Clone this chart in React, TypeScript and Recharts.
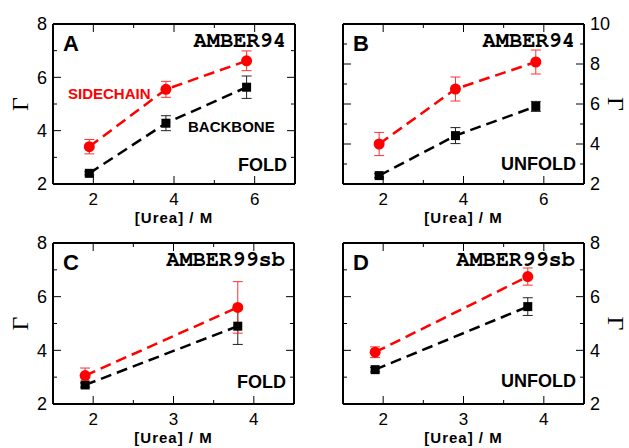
import React from 'react';
import { LineChart, Line, XAxis, YAxis, ErrorBar, Label } from 'recharts';

// urea concentrations (M)
const ureaAB = [1.9, 3.8, 5.8];
const ureaCD = [1.9, 3.8];

// Gamma values, with their error bars
const sideA = [3.4, 5.55, 6.62];
const sideAErr = [0.27, 0.3, 0.37];
const backA = [2.4, 4.28, 5.63];
const backAErr = [0.06, 0.28, 0.42];

const sideB = [4.0, 6.75, 8.1];
const sideBErr = [0.58, 0.6, 0.6];
const backB = [2.42, 4.42, 5.88];
const backBErr = [0.1, 0.4, 0.25];

const sideC = [3.06, 5.6];
const sideCErr = [0.28, 0.96];
const backC = [2.71, 4.9];
const backCErr = [0.08, 0.68];

const sideD = [3.93, 6.75];
const sideDErr = [0.2, 0.32];
const backD = [3.28, 5.63];
const backDErr = [0.08, 0.33];

const xTicksAB = [2, 3, 4, 5, 6];
const xMajorAB = [2, 4, 6];
const xTicksCD = [2, 2.5, 3, 3.5, 4];
const xMajorCD = [2, 3, 4];
const yTicks8 = [2, 3, 4, 5, 6, 7, 8];
const yMajor8 = [2, 4, 6, 8];
const yTicks10 = [2, 3, 4, 5, 6, 7, 8, 9, 10];
const yMajor10 = [2, 4, 6, 8, 10];

const SANS = '"Liberation Sans", Arial, Helvetica, sans-serif';
const MONO = '"Nimbus Mono PS", "Nimbus Mono L", FreeMono, "Courier New", Courier, "Liberation Mono", monospace';
const SERIF = '"Liberation Serif", "Times New Roman", serif';

function rows(x: number[], sc: number[], scErr: number[], bb: number[], bbErr: number[]) {
  return x.map((u, i) => ({ urea: u, side: sc[i], sideErr: scErr[i], back: bb[i], backErr: bbErr[i] }));
}

type Side = 'bottom' | 'top' | 'left' | 'right';

// ticks point into the plot; labels (if any) sit outside
function makeTick(side: Side, majors: number[], labels: boolean) {
  return (props: any) => {
    const { x, y, payload, index } = props;
    const v = payload.value;
    const major = majors.includes(v);
    const len = major ? 8 : 4;
    let x2 = x, y2 = y;
    if (side === 'bottom') y2 = y - len;
    if (side === 'top') y2 = y + len;
    if (side === 'left') x2 = x + len;
    if (side === 'right') x2 = x - len;
    let text = null;
    if (labels && major) {
      const style = { fontFamily: SANS, fontSize: 18, fill: '#000' };
      if (side === 'bottom') text = <text x={x} y={y + 21} textAnchor="middle" style={{ ...style, fontSize: 17 }}>{v}</text>;
      if (side === 'left') text = <text x={x - 6} y={y} dy="0.36em" textAnchor="end" style={style}>{v}</text>;
      if (side === 'right') text = <text x={x + 6} y={y} dy="0.36em" textAnchor="start" style={style}>{v}</text>;
    }
    return (
      <g key={index}>
        <line x1={x} y1={y} x2={x2} y2={y2} stroke="#000" strokeWidth={1} />
        {text}
      </g>
    );
  };
}

interface PanelProps {
  data: any[];
  width: number;
  height: number;
  margin: { top: number; right: number; bottom: number; left: number };
  xDomain: [number, number];
  xTicks: number[];
  xMajor: number[];
  yDomain: [number, number];
  yTicks: number[];
  yMajor: number[];
  ySide: 'left' | 'right';
  tag: string;
  ff: string;
  state: string;
  stateGap: number;
  names?: boolean;
}

function Panel(p: PanelProps) {
  const other = p.ySide === 'left' ? 'right' : 'left';
  const axisLine = { stroke: '#000', strokeWidth: 2 };
  const plotH = p.height - p.margin.top - p.margin.bottom;

  const annotations = (lp: any) => {
    const vb = lp.viewBox;
    const L = vb.x, T = vb.y, R = vb.x + vb.width, B = vb.y + plotH;
    return (
      <g>
        <text x={L + 10} y={T + 27} style={{ fontFamily: SANS, fontWeight: 'bold', fontSize: 22 }}>{p.tag}</text>
        <text x={R - 9} y={T + 23} textAnchor="end" style={{ fontFamily: MONO, fontWeight: 'bold', fontSize: 22 }}>{p.ff}</text>
        <text x={R - 8} y={B - p.stateGap} textAnchor="end" style={{ fontFamily: SANS, fontWeight: 'bold', fontSize: 18 }}>{p.state}</text>
        {p.names && (
          <text x={L + 15} y={T + 75} fill="#ff0000" style={{ fontFamily: SANS, fontWeight: 'bold', fontSize: 15 }}>SIDECHAIN</text>
        )}
        {p.names && (
          <text x={L + 135} y={T + 108} style={{ fontFamily: SANS, fontWeight: 'bold', fontSize: 15 }}>BACKBONE</text>
        )}
      </g>
    );
  };

  const gammaLabel = (lp: any) => {
    const vb = lp.viewBox;
    const cy = vb.y + vb.height / 2;
    const cx = p.ySide === 'left' ? vb.x - 33 : vb.x + vb.width + 32;
    return (
      <text
        x={cx}
        y={cy}
        dy="0.35em"
        textAnchor="middle"
        transform={`rotate(${p.ySide === 'left' ? -90 : 90}, ${cx}, ${cy})`}
        style={{ fontFamily: SERIF, fontSize: 24 }}
      >
        Γ
      </text>
    );
  };

  return (
    <LineChart width={p.width} height={p.height} data={p.data} margin={p.margin}>
      <XAxis
        xAxisId="x"
        dataKey="urea"
        type="number"
        orientation="bottom"
        mirror
        domain={p.xDomain}
        ticks={p.xTicks}
        interval={0}
        allowDataOverflow
        height={1}
        tickSize={0}
        tickMargin={0}
        axisLine={axisLine}
        tick={makeTick('bottom', p.xMajor, true)}
      >
        <Label
          content={(lp: any) => (
            <text
              x={lp.viewBox.x + lp.viewBox.width / 2}
              y={lp.viewBox.y + 40}
              textAnchor="middle"
              style={{ fontFamily: SANS, fontWeight: 'bold', fontSize: 15, letterSpacing: 1 }}
            >
              [Urea] / M
            </text>
          )}
        />
      </XAxis>
      <XAxis
        xAxisId="t"
        dataKey="urea"
        type="number"
        orientation="top"
        mirror
        domain={p.xDomain}
        ticks={p.xTicks}
        interval={0}
        allowDataOverflow
        height={1}
        tickSize={0}
        tickMargin={0}
        axisLine={axisLine}
        tick={makeTick('top', p.xMajor, false)}
      >
        <Label content={annotations} />
      </XAxis>
      <YAxis
        yAxisId="y"
        type="number"
        orientation={p.ySide}
        mirror
        domain={p.yDomain}
        ticks={p.yTicks}
        interval={0}
        allowDataOverflow
        width={1}
        tickSize={0}
        tickMargin={0}
        axisLine={axisLine}
        tick={makeTick(p.ySide, p.yMajor, true)}
      >
        <Label content={gammaLabel} />
      </YAxis>
      <YAxis
        yAxisId="o"
        type="number"
        orientation={other}
        mirror
        domain={p.yDomain}
        ticks={p.yTicks}
        interval={0}
        allowDataOverflow
        width={1}
        tickSize={0}
        tickMargin={0}
        axisLine={axisLine}
        tick={makeTick(other, p.yMajor, false)}
      />
      <Line
        xAxisId="x"
        yAxisId="y"
        dataKey="back"
        stroke="#000"
        strokeWidth={2.5}
        strokeDasharray="11 6"
        isAnimationActive={false}
        dot={(d: any) => <rect key={d.index} x={d.cx - 4.5} y={d.cy - 4.5} width={9} height={9} fill="#000" />}
        activeDot={false}
      >
        <ErrorBar dataKey="backErr" width={5} stroke="#222" strokeWidth={1} isAnimationActive={false} />
      </Line>
      <Line
        xAxisId="x"
        yAxisId="y"
        dataKey="side"
        stroke="#ff0000"
        strokeWidth={2.5}
        strokeDasharray="11 6"
        isAnimationActive={false}
        dot={(d: any) => <circle key={d.index} cx={d.cx} cy={d.cy} r={5.5} fill="#ff0000" />}
        activeDot={false}
      >
        <ErrorBar dataKey="sideErr" width={5} stroke="#ff3030" strokeWidth={1} isAnimationActive={false} />
      </Line>
    </LineChart>
  );
}

export default function App() {
  const dataA = rows(ureaAB, sideA, sideAErr, backA, backAErr);
  const dataB = rows(ureaAB, sideB, sideBErr, backB, backBErr);
  const dataC = rows(ureaCD, sideC, sideCErr, backC, backCErr);
  const dataD = rows(ureaCD, sideD, sideDErr, backD, backDErr);

  return (
    <div style={{ position: 'absolute', left: 0, top: 0, width: 629, height: 448, background: '#fff', overflow: 'hidden' }}>
      <div style={{ position: 'absolute', left: 0, top: 224 }}>
        <Panel
          data={dataC} width={315} height={224}
          margin={{ top: 19, right: 21, bottom: 44, left: 53 }}
          xDomain={[1.5, 4.5]} xTicks={xTicksCD} xMajor={xMajorCD}
          yDomain={[2, 8]} yTicks={yTicks8} yMajor={yMajor8}
          ySide="left" tag="C" ff="AMBER99sb" state="FOLD" stateGap={16}
        />
      </div>
      <div style={{ position: 'absolute', left: 315, top: 224 }}>
        <Panel
          data={dataD} width={314} height={224}
          margin={{ top: 19, right: 45, bottom: 44, left: 28 }}
          xDomain={[1.5, 4.5]} xTicks={xTicksCD} xMajor={xMajorCD}
          yDomain={[2, 8]} yTicks={yTicks8} yMajor={yMajor8}
          ySide="right" tag="D" ff="AMBER99sb" state="UNFOLD" stateGap={17}
        />
      </div>
      <div style={{ position: 'absolute', left: 0, top: 0 }}>
        <Panel
          data={dataA} width={315} height={232}
          margin={{ top: 24, right: 20, bottom: 48, left: 53 }}
          xDomain={[1, 7]} xTicks={xTicksAB} xMajor={xMajorAB}
          yDomain={[2, 8]} yTicks={yTicks8} yMajor={yMajor8}
          ySide="left" tag="A" ff="AMBER94" state="FOLD" stateGap={13} names
        />
      </div>
      <div style={{ position: 'absolute', left: 315, top: 0 }}>
        <Panel
          data={dataB} width={314} height={232}
          margin={{ top: 24, right: 45, bottom: 48, left: 28 }}
          xDomain={[1, 7]} xTicks={xTicksAB} xMajor={xMajorAB}
          yDomain={[2, 10]} yTicks={yTicks10} yMajor={yMajor10}
          ySide="right" tag="B" ff="AMBER94" state="UNFOLD" stateGap={14}
        />
      </div>
    </div>
  );
}
